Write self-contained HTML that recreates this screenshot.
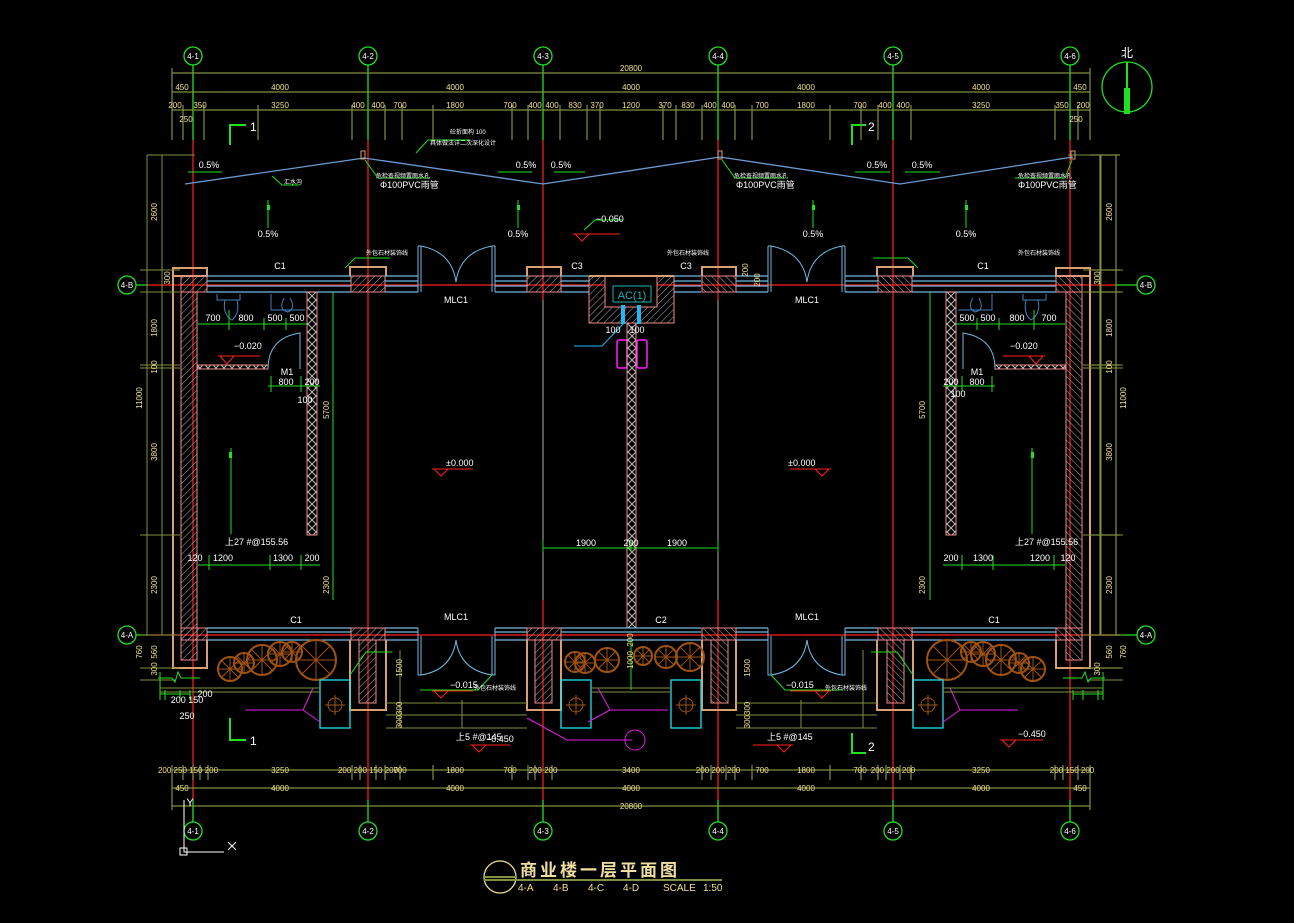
<!DOCTYPE html>
<html><head><meta charset="utf-8"><style>
html,body{margin:0;padding:0;background:#000;}
svg{display:block;}
text{font-family:"Liberation Sans","Noto Sans CJK SC",sans-serif;}
.d{fill:#f0e08c;font-size:8px;text-anchor:middle;}
.w{fill:#fff;font-size:9px;}
.wc{fill:#fff;font-size:9px;text-anchor:middle;}
</style></head><body>
<svg width="1294" height="923" viewBox="0 0 1294 923" xmlns="http://www.w3.org/2000/svg">
<defs>
<pattern id="h" width="5" height="5" patternUnits="userSpaceOnUse" patternTransform="rotate(45)"><line x1="0" y1="0" x2="0" y2="5" stroke="#aaa" stroke-width="1"/></pattern>
<pattern id="x" width="8" height="8" patternUnits="userSpaceOnUse"><path d="M0 0L8 8M8 0L0 8" stroke="#bbb" stroke-width="1"/></pattern>
<g id="tree" fill="none" stroke="#a0520f" stroke-width="2"><circle r="10" vector-effect="non-scaling-stroke"/><path d="M-10 0H10M0 -10V10M-7 -7L7 7M7 -7L-7 7" stroke-width="1" vector-effect="non-scaling-stroke"/></g>
<g id="half">
 <path d="M173 268V668H207V640" fill="none" stroke="#d8a070" stroke-width="2"/>
 <rect x="181" y="292" width="16" height="368" fill="url(#h)" stroke="#f08888"/>
 <rect x="173" y="268" width="34" height="8" fill="none" stroke="#d8a070" stroke-width="2"/>
 <rect x="181" y="276" width="26" height="16" fill="url(#h)" stroke="#f08888"/>
 <rect x="181" y="628" width="26" height="12" fill="url(#h)" stroke="#f08888"/>
 <path d="M350 276V267H386V276" fill="none" stroke="#d8a070" stroke-width="2"/>
 <rect x="351" y="276" width="34" height="16" fill="url(#h)" stroke="#f08888"/>
 <path d="M527 276V267H561V276" fill="none" stroke="#d8a070" stroke-width="2"/>
 <rect x="527" y="276" width="34" height="16" fill="url(#h)" stroke="#f08888"/>
 <path d="M207 276H351M207 281H351M207 286H351M207 292H351M385 276H418M385 281H418M385 286H418M385 292H418M495 276H527M495 281H527M495 286H527M495 292H527" stroke="#70b8e0" stroke-width="1.3"/>
 <path d="M418 246V292M421 246V292M492 246V292M495 246V292M418 246H421M492 246H495" stroke="#70b8e0" fill="none"/>
 <path d="M421 246Q452 252 456 282Q460 252 492 246" stroke="#70b8e0" fill="none"/>
 <path d="M207 628H351M207 632H351M207 640H351M385 628H418M385 632H418M385 640H418M495 628H527M495 632H527M495 640H527" stroke="#70b8e0" stroke-width="1.3"/>
 <path d="M418 628V675H421V636M495 628V675H492V636" stroke="#70b8e0" fill="none"/>
 <path d="M421 675Q452 670 456 640Q460 670 492 675" stroke="#70b8e0" fill="none"/>
 <rect x="351" y="628" width="34" height="12" fill="url(#h)" stroke="#f08888"/>
 <rect x="359" y="640" width="17" height="63" fill="url(#h)" stroke="#f08888"/>
 <path d="M350 640V710H386V640" fill="none" stroke="#d8a070" stroke-width="2"/>
 <rect x="527" y="628" width="34" height="12" fill="url(#h)" stroke="#f08888"/>
 <rect x="535" y="640" width="17" height="63" fill="url(#h)" stroke="#f08888"/>
 <path d="M527 640V710H561V640" fill="none" stroke="#d8a070" stroke-width="2"/>
 <use href="#tree" transform="translate(230,669) scale(1.2)"/>
 <use href="#tree" transform="translate(244,663) scale(1)"/>
 <use href="#tree" transform="translate(262,660) scale(1.5)"/>
 <use href="#tree" transform="translate(280,654) scale(1.2)"/>
 <use href="#tree" transform="translate(292,652) scale(1)"/>
 <use href="#tree" transform="translate(316,660) scale(2)"/>
 <rect x="320" y="680" width="30" height="48" fill="none" stroke="#20e0f0" stroke-width="1.3"/>
 <circle cx="335" cy="705" r="7" fill="none" stroke="#a0520f"/><path d="M325 705H345M335 695V715" stroke="#a0520f"/>
 <path d="M245 710H303L313 688M303 710L320 722" stroke="#e020e0" fill="none"/>
 <path d="M160 688H320M160 692H320" stroke="#809040"/>
 <rect x="307" y="292" width="10" height="243" fill="url(#x)" stroke="#f08888"/>
 <rect x="198" y="365" width="70" height="4" fill="url(#x)" stroke="#f08888"/>
 <path d="M268 369Q268 338 300 333V369" stroke="#70b8e0" fill="none"/>
 <path d="M217 294V300H240V294M225 300Q222 314 232 320Q240 314 237 300M271 294V310H305M284 298Q278 310 288 312Q296 308 290 298" stroke="#4080c0" fill="none"/>
 <path d="M198 324H307M229 310V330M264 318V330M286 318V330M268 386H320M271 376V392M301 376V392M231 448V534M198 565H320M209 555V570M270 555V570M301 555V570M333 292V600" stroke="#20e020" fill="none"/>
 <rect x="229" y="452" width="3" height="6" fill="#20e020"/>
 <path d="M218 356H260M220 356L227 364L234 356" stroke="#ff2020" fill="none"/>
 <path d="M432 469H473M434 469L441 476L448 469" stroke="#ff2020" fill="none"/>
 <path d="M432 691H473M434 691L441 698L448 691" stroke="#ff2020" fill="none"/>
 <path d="M470 745H510M472 745L479 752L486 745" stroke="#ff2020" fill="none"/>
 <path d="M420 690H478L492 675" stroke="#20e020" fill="none"/>
 <path d="M350 675L366 652H392" stroke="#20e020" fill="none"/>
 <path d="M355 258H390M355 258L345 268" stroke="#20e020" fill="none"/>
 <path d="M386 703H527M386 715H527M386 728H527M400 650V728M462 700V728" stroke="#809040" fill="none"/>
 <path d="M147 155V635M162 155V635M147 155H195M140 270H180M140 292H180M140 365H180M140 368H180M140 535H180M140 635H180M140 668H180M140 680H175" stroke="#809040" fill="none"/>
 <path d="M158 678H172L175 682L178 672L181 678H200M160 672V700" stroke="#20e020" fill="none"/>
 <path d="M160 694H190M165 690V700M180 690V700M190 690V700" stroke="#20e020" fill="none"/>
</g>
</defs>
<rect width="1294" height="923" fill="#000"/>
<g stroke="#ff2020" stroke-width="1.2">
<path d="M193 140V800M368 140V800M893 140V800M1070 140V800M543 140V300M718 140V300M543 600V800M718 600V800"/>
<path d="M148 285H1115M148 635H1115"/>
</g>
<path d="M543 300V600M718 300V600" stroke="#b0b0b0"/>
<g stroke="#20e020" stroke-width="1.3" fill="none">
<path d="M193 65V140M368 65V140M543 65V140M718 65V140M893 65V140M1070 65V140"/>
<path d="M193 800V822M368 800V822M543 800V822M718 800V822M893 800V822M1070 800V822"/>
<path d="M136 285H148M1115 285H1137M136 635H148M1115 635H1137"/>
<circle cx="193" cy="56" r="9"/><circle cx="368" cy="56" r="9"/><circle cx="543" cy="56" r="9"/><circle cx="718" cy="56" r="9"/><circle cx="893" cy="56" r="9"/><circle cx="1070" cy="56" r="9"/>
<circle cx="193" cy="831" r="9"/><circle cx="368" cy="831" r="9"/><circle cx="543" cy="831" r="9"/><circle cx="718" cy="831" r="9"/><circle cx="893" cy="831" r="9"/><circle cx="1070" cy="831" r="9"/>
<circle cx="127" cy="285" r="9"/><circle cx="1146" cy="285" r="9"/><circle cx="127" cy="635" r="9"/><circle cx="1146" cy="635" r="9"/>
</g>
<g fill="#fff" font-size="8" text-anchor="middle">
<text x="193" y="59">4-1</text><text x="368" y="59">4-2</text><text x="543" y="59">4-3</text><text x="718" y="59">4-4</text><text x="893" y="59">4-5</text><text x="1070" y="59">4-6</text>
<text x="193" y="834">4-1</text><text x="368" y="834">4-2</text><text x="543" y="834">4-3</text><text x="718" y="834">4-4</text><text x="893" y="834">4-5</text><text x="1070" y="834">4-6</text>
<text x="127" y="288">4-B</text><text x="1146" y="288">4-B</text><text x="127" y="638">4-A</text><text x="1146" y="638">4-A</text>
</g>
<use href="#half"/>
<use href="#half" transform="matrix(-1,0,0,1,1263,0)"/>
<!-- roof (not symmetric) -->
<path d="M185 184L364 158L543 184L720 157L900 184L1073 157" stroke="#6a9ad0" fill="none" stroke-width="1.3"/>
<rect x="361" y="151" width="4" height="8" fill="none" stroke="#d8a070"/>
<rect x="718" y="151" width="4" height="8" fill="none" stroke="#d8a070"/>
<rect x="1071" y="151" width="4" height="8" fill="none" stroke="#d8a070"/>
<path d="M188 172H222M498 172H532M554 172H585M855 172H890M905 172H940" stroke="#20e020"/>
<path d="M268 200V228M518 200V228M813 200V228M966 200V228" stroke="#20e020"/>
<rect x="267" y="205" width="3" height="5" fill="#20e020"/><rect x="517" y="205" width="3" height="5" fill="#20e020"/><rect x="812" y="205" width="3" height="5" fill="#20e020"/><rect x="965" y="205" width="3" height="5" fill="#20e020"/>
<path d="M272 176L282 185H300M365 160L378 178H430M416 153L428 140H470M722 160L735 178H785M1072 160L1065 178H1015" stroke="#20e020" fill="none"/>
<!-- section marks -->
<path d="M230 145V125H246M230 718V740H246" stroke="#20e020" stroke-width="2" fill="none"/>
<path d="M852 145V125H866M852 733V753H866" stroke="#20e020" stroke-width="2" fill="none"/>
<!-- center -->
<rect x="589" y="276" width="85" height="47" fill="url(#h)" stroke="#f08888"/>
<rect x="605" y="276" width="52" height="31" fill="#000" stroke="#f08888"/>
<path d="M589 276H674" stroke="#d8a070" stroke-width="2"/>
<rect x="613" y="286" width="38" height="16" fill="none" stroke="#20b0b0"/>
<text x="632" y="299" fill="#20b0b0" font-size="11" text-anchor="middle">AC(1)</text>
<rect x="621" y="305" width="4" height="19" fill="#20b8f0"/><rect x="637" y="305" width="4" height="19" fill="#20b8f0"/>
<path d="M574 346H602L625 322" stroke="#20b8f0" fill="none"/>
<rect x="617" y="340" width="10" height="28" rx="2" fill="none" stroke="#ff20ff" stroke-width="1.5"/>
<rect x="637" y="340" width="10" height="28" rx="2" fill="none" stroke="#ff20ff" stroke-width="1.5"/>
<rect x="627" y="323" width="9" height="305" fill="url(#x)" stroke="#f08888"/>
<path d="M561 276H589M561 281H589M561 286H589M561 292H589M674 276H701M674 281H701M674 286H701M674 292H701" stroke="#70b8e0" stroke-width="1.3"/>
<path d="M561 628H701M561 632H701M561 640H701" stroke="#70b8e0" stroke-width="1.3"/>
<path d="M543 548H718M543 540V552M631 540V552M718 540V552" stroke="#20e020"/>
<path d="M631 640V690" stroke="#20e020"/>
<path d="M573 234H620M575 234L582 241L589 234" stroke="#ff2020" fill="none"/>
<path d="M584 230L595 220H623" stroke="#20e020" fill="none"/>
<use href="#tree" transform="translate(575,662) scale(1)"/>
<use href="#tree" transform="translate(585,663) scale(1)"/>
<use href="#tree" transform="translate(607,660) scale(1.2)"/>
<use href="#tree" transform="translate(643,656) scale(0.9)"/>
<use href="#tree" transform="translate(666,657) scale(1.1)"/>
<use href="#tree" transform="translate(690,657) scale(1.4)"/>
<rect x="561" y="680" width="30" height="48" fill="none" stroke="#20e0f0" stroke-width="1.3"/>
<rect x="671" y="680" width="30" height="48" fill="none" stroke="#20e0f0" stroke-width="1.3"/>
<circle cx="576" cy="705" r="7" fill="none" stroke="#a0520f"/><path d="M566 705H586M576 695V715" stroke="#a0520f"/>
<circle cx="686" cy="705" r="7" fill="none" stroke="#a0520f"/><path d="M676 705H696M686 695V715" stroke="#a0520f"/>
<path d="M591 688H671M591 692H671" stroke="#809040"/>
<path d="M598 688L610 710H668M610 710L588 722M527 718L567 740H632" stroke="#e020e0" fill="none"/>
<circle cx="635" cy="740" r="10" fill="none" stroke="#e020e0"/>
<path d="M1000 740H1043M1002 740L1009 747L1016 740" stroke="#ff2020" fill="none"/>
<g stroke="#809040" stroke-width="1.2" fill="none">
<path d="M172 73H1090M172 92H1090M172 110H1090M172 68V140M1090 68V140"/>
<path d="M183 105V140M204 105V140M258 105V140M352 105V140M385 105V140M402 105V140M433 105V140M512 105V140M528 105V140M560 105V140M587 105V140M600 105V140M663 105V140M676 105V140M702 105V140M735 105V140M752 105V140M830 105V140M861 105V140M878 105V140M911 105V140M1055 105V140M1078 105V140"/>
<path d="M172 770H1090M172 788H1090M172 806H1090M172 765V810M1090 765V810"/>
<path d="M183 765V780M193 765V780M200 765V780M208 765V780M352 765V780M360 765V780M376 765V780M385 765V780M400 765V780M433 765V780M512 765V780M528 765V780M535 765V780M552 765V780M702 765V780M711 765V780M726 765V780M735 765V780M752 765V780M830 765V780M861 765V780M878 765V780M886 765V780M900 765V780M911 765V780M1055 765V780M1063 765V780M1078 765V780"/>
<path d="M1100 155V635M1116 155V635M1090 155H1120M1090 270H1120M1090 292H1120M1090 365H1120M1090 535H1120M1090 635H1120M1090 668H1120"/>
</g>
<g class="d">
<text x="631" y="71">20800</text>
<text x="182" y="90">450</text><text x="280" y="90">4000</text><text x="455" y="90">4000</text><text x="631" y="90">4000</text><text x="806" y="90">4000</text><text x="981" y="90">4000</text><text x="1080" y="90">450</text>
<text x="175" y="108">200</text><text x="200" y="108">350</text><text x="280" y="108">3250</text><text x="358" y="108">400</text><text x="378" y="108">400</text><text x="400" y="108">700</text><text x="455" y="108">1800</text><text x="510" y="108">700</text><text x="535" y="108">400</text><text x="552" y="108">400</text><text x="575" y="108">830</text><text x="597" y="108">370</text><text x="631" y="108">1200</text><text x="665" y="108">370</text><text x="688" y="108">830</text><text x="710" y="108">400</text><text x="728" y="108">400</text><text x="762" y="108">700</text><text x="806" y="108">1800</text><text x="860" y="108">700</text><text x="885" y="108">400</text><text x="903" y="108">400</text><text x="981" y="108">3250</text><text x="1062" y="108">350</text><text x="1083" y="108">200</text>
<text x="186" y="122">250</text><text x="1076" y="122">250</text>
<text x="188" y="773">200 250 150 200</text><text x="280" y="773">3250</text><text x="368" y="773">200 200 150 200</text><text x="400" y="773">700</text><text x="455" y="773">1800</text><text x="510" y="773">700</text><text x="543" y="773">200 200</text><text x="631" y="773">3400</text><text x="718" y="773">200 200 200</text><text x="762" y="773">700</text><text x="806" y="773">1800</text><text x="860" y="773">700</text><text x="893" y="773">200 200 200</text><text x="981" y="773">3250</text><text x="1072" y="773">200 150 200</text>
<text x="182" y="791">450</text><text x="280" y="791">4000</text><text x="455" y="791">4000</text><text x="631" y="791">4000</text><text x="806" y="791">4000</text><text x="981" y="791">4000</text><text x="1080" y="791">450</text>
<text x="631" y="809">20800</text>
</g>
<g class="d">
<text transform="translate(157,212) rotate(-90)">2600</text><text transform="translate(170,278) rotate(-90)">300</text><text transform="translate(157,328) rotate(-90)">1800</text><text transform="translate(157,367) rotate(-90)">100</text><text transform="translate(142,398) rotate(-90)">11000</text><text transform="translate(157,452) rotate(-90)">3800</text><text transform="translate(157,585) rotate(-90)">2300</text><text transform="translate(157,652) rotate(-90)">560</text><text transform="translate(142,652) rotate(-90)">760</text><text transform="translate(157,669) rotate(-90)">300</text>
<text transform="translate(1112,212) rotate(-90)">2600</text><text transform="translate(1100,278) rotate(-90)">300</text><text transform="translate(1112,328) rotate(-90)">1800</text><text transform="translate(1112,367) rotate(-90)">100</text><text transform="translate(1126,398) rotate(-90)">11000</text><text transform="translate(1112,452) rotate(-90)">3800</text><text transform="translate(1112,585) rotate(-90)">2300</text><text transform="translate(1112,652) rotate(-90)">560</text><text transform="translate(1126,652) rotate(-90)">760</text><text transform="translate(1100,669) rotate(-90)">300</text>
</g>
<g class="wc">
<text x="280" y="269">C1</text><text x="983" y="269">C1</text><text x="577" y="269">C3</text><text x="686" y="269">C3</text>
<text x="456" y="303">MLC1</text><text x="807" y="303">MLC1</text>
<text x="296" y="623">C1</text><text x="994" y="623">C1</text><text x="456" y="620">MLC1</text><text x="807" y="620">MLC1</text><text x="661" y="623">C2</text>
<text x="209" y="168">0.5%</text><text x="526" y="168">0.5%</text><text x="561" y="168">0.5%</text><text x="877" y="168">0.5%</text><text x="922" y="168">0.5%</text>
<text x="268" y="237">0.5%</text><text x="518" y="237">0.5%</text><text x="813" y="237">0.5%</text><text x="966" y="237">0.5%</text>
<text x="213" y="321">700</text><text x="246" y="321">800</text><text x="275" y="321">500</text><text x="297" y="321">500</text>
<text x="967" y="321">500</text><text x="988" y="321">500</text><text x="1017" y="321">800</text><text x="1049" y="321">700</text>
<text x="287" y="375">M1</text><text x="286" y="385">800</text><text x="312" y="385">200</text><text x="305" y="403">100</text>
<text x="977" y="375">M1</text><text x="977" y="385">800</text><text x="951" y="385">200</text><text x="958" y="397">100</text>
<text x="195" y="561">120</text><text x="223" y="561">1200</text><text x="283" y="561">1300</text><text x="312" y="561">200</text>
<text x="951" y="561">200</text><text x="983" y="561">1300</text><text x="1040" y="561">1200</text><text x="1068" y="561">120</text>
<text x="586" y="546">1900</text><text x="631" y="546">200</text><text x="677" y="546">1900</text>
<text x="613" y="333">100</text><text x="637" y="333">100</text>
<text x="187" y="703">200 150</text><text x="187" y="719">250</text><text x="205" y="697">200</text>
</g>
<g class="w" font-size="8">
<text x="225" y="545">上27 #@155.56</text><text x="1015" y="545">上27 #@155.56</text>
<text x="456" y="740">上5 #@145</text><text x="767" y="740">上5 #@145</text>
<text x="284" y="184" font-size="6">汇水沟</text>
<text x="376" y="178" font-size="6">危检查视频置雨水孔</text><text x="380" y="188">Φ100PVC雨管</text>
<text x="734" y="178" font-size="6">危检查视频置雨水孔</text><text x="736" y="188">Φ100PVC雨管</text>
<text x="1018" y="178" font-size="6">危检查视频置雨水孔</text><text x="1018" y="188">Φ100PVC雨管</text>
<text x="450" y="134" font-size="6">砼折面构 100</text><text x="430" y="145" font-size="6">具体做法详二次深化设计</text>
<text x="366" y="255" font-size="6">外包石材装饰线</text><text x="667" y="255" font-size="6">外包石材装饰线</text><text x="1018" y="255" font-size="6">外包石材装饰线</text>
<text x="474" y="690" font-size="6">外包石材装饰线</text><text x="825" y="690" font-size="6">外包石材装饰线</text>
<text x="596" y="222">−0.050</text>
<text x="234" y="349">−0.020</text><text x="1010" y="349">−0.020</text>
<text x="446" y="466">±0.000</text><text x="788" y="466">±0.000</text>
<text x="450" y="688">−0.015</text><text x="786" y="688">−0.015</text>
<text x="486" y="742">−0.450</text><text x="1018" y="737">−0.450</text>
</g>
<g class="d">
<text transform="translate(329,410) rotate(-90)">5700</text><text transform="translate(925,410) rotate(-90)">5700</text>
<text transform="translate(329,585) rotate(-90)">2300</text><text transform="translate(925,585) rotate(-90)">2300</text>
<text transform="translate(402,668) rotate(-90)">1500</text><text transform="translate(750,668) rotate(-90)">1500</text>
<text transform="translate(402,715) rotate(-90)">300300</text><text transform="translate(750,715) rotate(-90)">300300</text>
<text transform="translate(633,660) rotate(-90)">1000</text><text transform="translate(633,640) rotate(-90)">200</text>
<text transform="translate(748,270) rotate(-90)">200</text><text transform="translate(760,280) rotate(-90)">200</text>
</g>
<g fill="#fff" font-size="12"><text x="250" y="131">1</text><text x="250" y="745">1</text><text x="868" y="131">2</text><text x="868" y="751">2</text></g>
<circle cx="1127" cy="87" r="25" fill="none" stroke="#20e020" stroke-width="1.3"/>
<path d="M1127 62V114" stroke="#20e020" stroke-width="2"/><rect x="1124" y="88" width="6" height="26" fill="#20e020"/>
<text x="1127" y="57" fill="#fff" font-size="12" text-anchor="middle">北</text>
<path d="M184 800V852H224M228 842L236 850M236 842L228 850" stroke="#fff" fill="none"/>
<rect x="180" y="848" width="7" height="7" fill="none" stroke="#fff"/>
<text x="190" y="806" fill="#fff" font-size="11" text-anchor="middle">Y</text>
<circle cx="500" cy="877" r="16" fill="none" stroke="#f0e08c" stroke-width="1.3"/>
<path d="M484 877H516M484 880H722" stroke="#809040" stroke-width="2"/>
<text x="520" y="876" fill="#f0e0a0" font-size="17" font-weight="bold" letter-spacing="3">商业楼一层平面图</text>
<g fill="#f0e08c" font-size="10"><text x="518" y="891">4-A</text><text x="553" y="891">4-B</text><text x="588" y="891">4-C</text><text x="623" y="891">4-D</text><text x="663" y="891">SCALE</text><text x="703" y="891">1:50</text></g>
</svg>
</body></html>
